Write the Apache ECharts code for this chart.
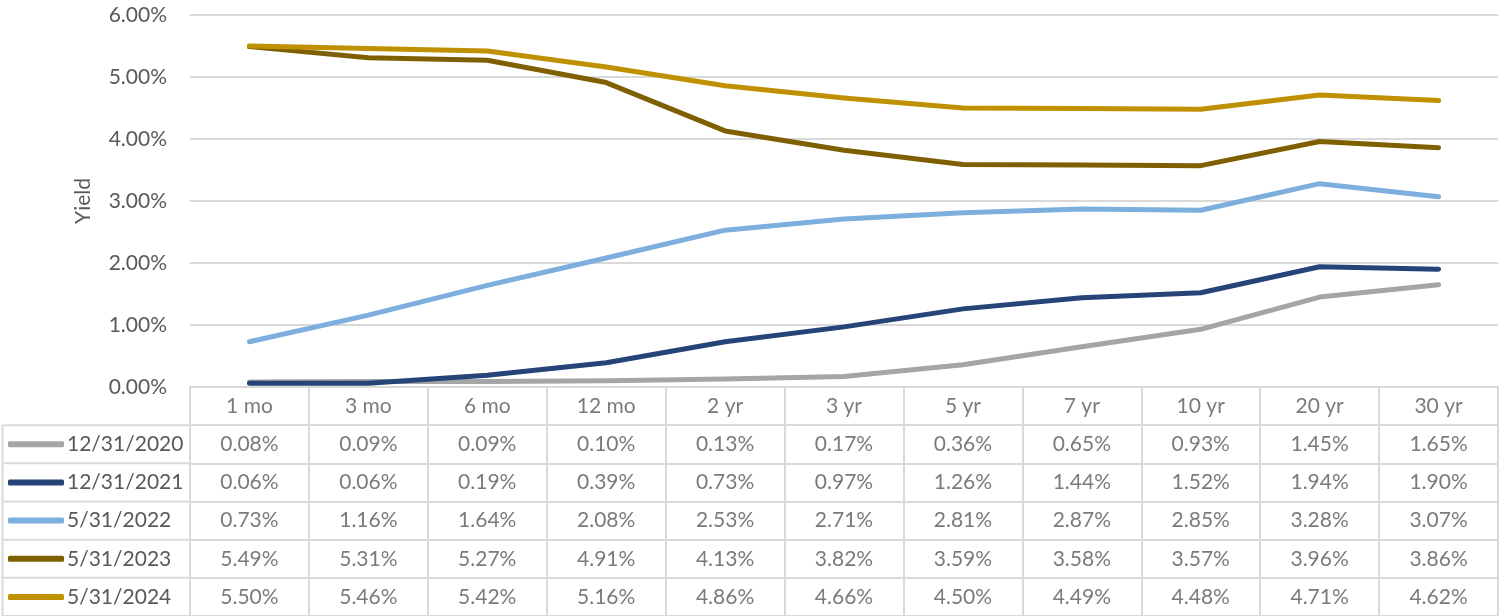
<!DOCTYPE html>
<html>
<head>
<meta charset="utf-8">
<script src="https://cdn.jsdelivr.net/npm/echarts@6/dist/echarts.min.js"></script>
<style>
html, body { margin: 0; padding: 0; background: #fff; }
#main { width: 1501px; height: 616px; }
</style>
</head>
<body>
<div id="main"></div>
<script>
// maturities (x axis / table header)
const categories = ['1 mo', '3 mo', '6 mo', '12 mo', '2 yr', '3 yr', '5 yr', '7 yr', '10 yr', '20 yr', '30 yr'];

// yields in %
const y2020 = [0.08, 0.09, 0.09, 0.10, 0.13, 0.17, 0.36, 0.65, 0.93, 1.45, 1.65];
const y2021 = [0.06, 0.06, 0.19, 0.39, 0.73, 0.97, 1.26, 1.44, 1.52, 1.94, 1.90];
const y2022 = [0.73, 1.16, 1.64, 2.08, 2.53, 2.71, 2.81, 2.87, 2.85, 3.28, 3.07];
const y2023 = [5.49, 5.31, 5.27, 4.91, 4.13, 3.82, 3.59, 3.58, 3.57, 3.96, 3.86];
const y2024 = [5.50, 5.46, 5.42, 5.16, 4.86, 4.66, 4.50, 4.49, 4.48, 4.71, 4.62];

const seriesNames = ['12/31/2020', '12/31/2021', '5/31/2022', '5/31/2023', '5/31/2024'];
const seriesValues = [y2020, y2021, y2022, y2023, y2024];
const seriesColors = ['#A5A5A5', '#264478', '#7CAFDD', '#7F6000', '#BF9000'];

const yTicks = [0, 1, 2, 3, 4, 5, 6];

const font = 'Lato, "Open Sans", sans-serif';
const fs = 21;
const txt = '#595959';
const gridColor = '#D9D9D9';

let myChart = echarts.init(document.getElementById('main'));

// plot area and table geometry
const plotLeft = 190, plotRight = 3, plotTop = 15, tableH = 229;
const rowH = tableH / 6;

let lineSeries = seriesNames.map((name, i) => ({
    name: name,
    type: 'line',
    xAxisIndex: 0,
    yAxisIndex: 0,
    data: seriesValues[i],
    symbol: 'none',
    smooth: false,
    silent: true,
    z: 3,
    lineStyle: { color: seriesColors[i], width: 5, cap: 'round', join: 'round' },
    itemStyle: { color: seriesColors[i] }
}));

// table cells: header row + one row per series
let headerCells = categories.map((c, j) => ({ value: [j, 0.5], text: c }));
let valueCells = [];
seriesValues.forEach((vals, i) => {
    vals.forEach((v, j) => {
        valueCells.push({ value: [j, i + 1.5], text: v.toFixed(2) + '%' });
    });
});

let tableSeries = {
    name: 'table',
    type: 'scatter',
    xAxisIndex: 1,
    yAxisIndex: 1,
    silent: true,
    symbolSize: 1,
    itemStyle: { color: 'transparent' },
    label: {
        show: true,
        position: 'inside',
        color: txt,
        fontFamily: font,
        fontSize: fs,
        formatter: p => p.data.text
    },
    data: headerCells.concat(valueCells)
};

// legend column frame
let frame = [];
frame.push({ type: 'line', shape: { x1: 2.5, y1: 616 - tableH + rowH, x2: 2.5, y2: 616 }, style: { stroke: gridColor, lineWidth: 2 } });
for (let r = 1; r <= 6; r++) {
    let y = 616 - tableH + rowH * r;
    frame.push({ type: 'line', shape: { x1: 2, y1: y, x2: plotLeft, y2: y }, style: { stroke: gridColor, lineWidth: 2 } });
}

let option = {
    animation: false,
    backgroundColor: '#fff',
    textStyle: { fontFamily: font },
    grid: [
        { left: plotLeft, right: plotRight, top: plotTop, bottom: tableH },
        { left: plotLeft, right: plotRight, top: 616 - tableH, bottom: 0, show: true, borderColor: gridColor, borderWidth: 2 }
    ],
    legend: {
        data: seriesNames,
        orient: 'vertical',
        left: 8,
        top: 616 - tableH + rowH + rowH / 2 - 11,
        padding: 0,
        icon: 'roundRect',
        itemWidth: 56,
        itemHeight: 6,
        itemGap: rowH - 22,
        selectedMode: false,
        textStyle: { color: txt, fontFamily: font, fontSize: fs, lineHeight: 22, padding: [0, 0, 0, -2] }
    },
    xAxis: [
        {
            type: 'category',
            gridIndex: 0,
            data: categories,
            boundaryGap: true,
            axisLine: { show: false },
            axisTick: { show: false },
            axisLabel: { show: false },
            splitLine: { show: false }
        },
        {
            type: 'category',
            gridIndex: 1,
            data: categories,
            boundaryGap: true,
            axisLine: { show: false },
            axisTick: { show: false },
            axisLabel: { show: false },
            splitLine: { show: true, interval: 0, lineStyle: { color: gridColor, width: 2 } }
        }
    ],
    yAxis: [
        {
            type: 'value',
            gridIndex: 0,
            min: yTicks[0],
            max: yTicks[yTicks.length - 1],
            interval: 1,
            name: 'Yield',
            nameLocation: 'middle',
            nameRotate: 90,
            nameGap: 96,
            nameTextStyle: { color: txt, fontFamily: font, fontSize: fs },
            axisLine: { show: false },
            axisTick: { show: false },
            axisLabel: {
                color: txt,
                fontFamily: font,
                fontSize: fs,
                margin: 23,
                formatter: v => v.toFixed(2) + '%'
            },
            splitLine: { lineStyle: { color: gridColor, width: 2 } }
        },
        {
            type: 'value',
            gridIndex: 1,
            min: 0,
            max: 6,
            interval: 1,
            inverse: true,
            axisLine: { show: false },
            axisTick: { show: false },
            axisLabel: { show: false },
            splitLine: { show: true, lineStyle: { color: gridColor, width: 2 } }
        }
    ],
    graphic: frame,
    series: lineSeries.concat([tableSeries])
};

myChart.setOption(option);
</script>
</body>
</html>
